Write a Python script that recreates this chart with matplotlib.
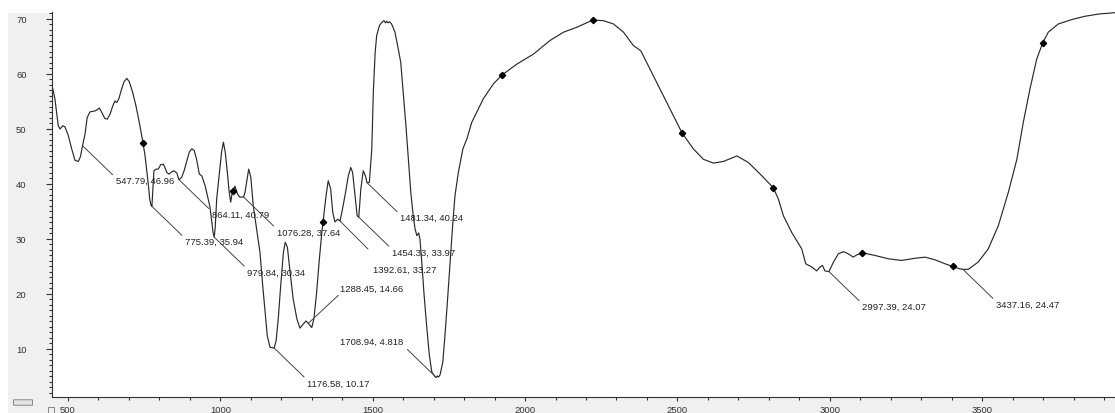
import numpy as np
import matplotlib
matplotlib.use("Agg")
import matplotlib.pyplot as plt
from matplotlib.patches import Rectangle, FancyBboxPatch
from matplotlib.ticker import MultipleLocator, FuncFormatter

# FTIR spectrum: wavenumber (cm-1) -> transmittance (%)
wavenumber = [
    450, 457, 468, 474, 483, 490, 501, 512, 523, 534, 541, 547.79, 556, 563, 572,
    580, 590, 603, 611, 621, 629, 638, 647, 654, 660, 667, 676, 684, 693, 701,
    712, 723, 734, 746, 753, 758, 764, 768, 772, 775.39, 779, 782, 789, 796, 804,
    813, 818, 824, 832, 840, 848, 857, 864.11, 873, 881, 890, 898, 906, 914, 922,
    931, 939, 950, 960, 966, 972, 976, 979.84, 983, 988, 997, 1004, 1010, 1016,
    1023, 1029, 1034, 1040, 1048, 1056, 1064, 1076.28, 1081, 1088, 1093, 1100,
    1108, 1119, 1130, 1139, 1147, 1154, 1163, 1176.58, 1183, 1190, 1198, 1207,
    1213, 1220, 1229, 1239, 1251, 1261, 1272, 1281, 1288.45, 1300, 1307, 1316,
    1325, 1333, 1338, 1347, 1354, 1362, 1369, 1376, 1385, 1392.61, 1400, 1409,
    1420, 1428, 1434, 1442, 1449, 1454.33, 1461, 1469, 1476, 1481.34, 1489, 1497,
    1502, 1508, 1513, 1522, 1530, 1537, 1542, 1546, 1550, 1555, 1562, 1573, 1584,
    1592, 1600, 1609, 1617, 1625, 1633, 1639, 1645, 1651, 1655, 1661, 1668, 1677,
    1686, 1694, 1704, 1708.94, 1712, 1716, 1721, 1730, 1737, 1745, 1754, 1763,
    1770, 1781, 1796, 1809, 1825, 1841, 1852, 1863, 1896, 1924, 1973, 2027, 2082,
    2126, 2170, 2222, 2257, 2290, 2323, 2355, 2370, 2380, 2410, 2443, 2476, 2515,
    2552, 2585, 2618, 2651, 2695, 2733, 2777, 2815, 2831, 2848, 2875, 2908, 2921,
    2941, 2957, 2968, 2976, 2984, 2997.39, 3012, 3028, 3045, 3061, 3077, 3088,
    3106, 3149, 3192, 3236, 3280, 3313, 3346, 3378, 3403, 3425, 3437.16, 3455,
    3487, 3520, 3553, 3586, 3614, 3635, 3657, 3679, 3699, 3717, 3750, 3794, 3838,
    3882, 3925, 3936,
]
transmittance = [
    57.3, 55.5, 50.6, 50.0, 50.6, 50.4, 48.8, 46.4, 44.3, 44.1, 45.0, 46.96, 49.1, 52.1, 53.1,
    53.2, 53.3, 53.8, 53.0, 51.9, 51.8, 52.7, 54.2, 55.1, 54.8, 55.5, 57.3, 58.6, 59.2, 58.6,
    56.7, 54.2, 51.2, 47.5, 45.1, 42.7, 39.7, 37.3, 36.2, 35.94, 39.5, 42.4, 42.7, 42.7, 43.5,
    43.6, 43.0, 42.1, 41.8, 42.2, 42.4, 42.0, 40.79, 41.2, 42.4, 44.2, 45.8, 46.4, 46.1, 44.5,
    41.8, 41.5, 39.7, 37.3, 35.8, 33.0, 31.2, 30.34, 32.0, 37.3, 42.1, 45.8, 47.6, 45.8,
    42.1, 38.5, 36.7, 38.8, 39.6, 38.2, 37.6, 37.64, 38.5, 40.9, 42.7, 41.2,
    36.0, 31.8, 27.6, 21.5, 16.7, 12.4, 10.3, 10.17, 11.5, 15.5, 21.5, 27.6,
    29.4, 28.5, 23.9, 19.1, 15.5, 13.8, 14.5, 15.1, 14.66, 13.9, 15.5, 20.3,
    26.4, 31.2, 33.6, 37.9, 40.6, 39.1, 34.8, 33.1, 33.6, 33.27, 35.2, 37.9,
    41.5, 43.0, 42.1, 37.9, 34.2, 33.97, 39.1, 42.4, 41.5, 40.24, 40.3, 46.4,
    56.7, 63.9, 67.0, 68.8, 69.4, 69.7, 69.3, 69.6, 69.3, 69.5, 69.1, 67.6, 64.5,
    62.1, 56.7, 50.6, 44.5, 38.5, 34.2, 31.8, 30.6, 31.1, 30.0, 25.8, 20.3, 14.2,
    8.8, 5.8, 5.0, 4.818, 5.1, 4.9, 5.3, 7.6, 12.4, 18.5, 25.8, 33.0,
    37.9, 42.1, 46.4, 48.2, 51.2, 53.0, 54.2, 55.5, 58.2, 59.8, 61.8, 63.6, 66.1,
    67.6, 68.5, 69.8, 69.7, 69.1, 67.6, 65.2, 64.6, 64.2, 60.9, 57.3, 53.6, 49.3,
    46.4, 44.5, 43.8, 44.1, 45.1, 43.9, 41.5, 39.3, 37.3, 34.2, 31.2, 28.2, 25.5,
    24.9, 24.2, 24.9, 25.2, 24.2, 24.07, 25.8, 27.3, 27.7, 27.3, 26.7, 27.1,
    27.5, 27.0, 26.4, 26.1, 26.5, 26.7, 26.2, 25.5, 25.0, 24.6, 24.47, 24.5,
    25.8, 28.2, 32.4, 38.5, 44.5, 51.2, 57.3, 62.7, 65.7, 67.6, 69.1, 69.9, 70.5,
    70.9, 71.1, 71.15,
]

# small black cursor markers on the curve
marker_x = [746, 1040, 1336, 1924, 2222, 2515, 2815, 3106, 3403, 3699]
marker_y = [47.5, 38.8, 33.1, 59.8, 69.8, 49.3, 39.3, 27.4, 25.0, 65.7]

# labelled peaks
peak_x = [547.79, 775.39, 864.11, 979.84, 1076.28, 1176.58, 1288.45,
          1392.61, 1454.33, 1481.34, 1708.94, 2997.39, 3437.16]
peak_y = [46.96, 35.94, 40.79, 30.34, 37.64, 10.17, 14.66,
          33.27, 33.97, 40.24, 4.818, 24.07, 24.47]
peak_labels = ["547.79, 46.96", "775.39, 35.94", "864.11, 40.79",
               "979.84, 30.34", "1076.28, 37.64", "1176.58, 10.17",
               "1288.45, 14.66", "1392.61, 33.27", "1454.33, 33.97",
               "1481.34, 40.24", "1708.94, 4.818", "2997.39, 24.07",
               "3437.16, 24.47"]

# layout of leader line end / text position (pixels relative to the point)
DEFAULT_POS = ((30, -29), (33, -35), "left")
special_pos = {
    "1288.45, 14.66": ((30, 28), (32, 35), "left"),
    "1392.61, 33.27": ((28, -28), (33, -48), "left"),
    "1708.94, 4.818": ((-29, 28), (-33, 36), "right"),
}

W, H = 1115, 414
BG = "#f0f0f0"
FONT = "Liberation Sans"

fig = plt.figure(figsize=(W / 100, H / 100), dpi=100, facecolor="white")

# grey frame of the program window (left of and below the plot)
fig.add_artist(Rectangle((8 / W, 0), 1 - 8 / W, (H - 14) / H, fc=BG, ec="none",
                         transform=fig.transFigure, zorder=0))

ax = fig.add_axes([52 / W, 16 / H, 1 - 52 / W, 385.15 / H])
ax.set_facecolor("white")
ax.set_zorder(1)

ax.plot(wavenumber, transmittance, color="#2a2a2a", lw=0.85)
ax.plot(marker_x, marker_y, ls="none", marker="D", ms=3.2, color="black")

for x, y, lab in zip(peak_x, peak_y, peak_labels):
    lead, txt, ha = special_pos.get(lab, DEFAULT_POS)
    ax.annotate("", xy=(x, y), xytext=lead, textcoords="offset pixels",
                arrowprops=dict(arrowstyle="-", color="#444444", lw=0.7,
                                shrinkA=0, shrinkB=0))
    ax.annotate(lab, xy=(x, y), xytext=txt, textcoords="offset pixels",
                ha=ha, va="center", fontsize=6.8, family=FONT, color="#222222")

ax.set_xlim(447.5, 3936)
ax.set_ylim(1.27, 71.3)

ax.xaxis.set_major_locator(MultipleLocator(500))
ax.xaxis.set_minor_locator(MultipleLocator(100))
ax.yaxis.set_major_locator(MultipleLocator(10))
ax.yaxis.set_minor_locator(MultipleLocator(1))
ax.xaxis.set_major_formatter(FuncFormatter(lambda v, p: f"{v:.0f}"))
ax.yaxis.set_major_formatter(FuncFormatter(lambda v, p: f"{v:.0f}"))

ax.tick_params(axis="x", which="major", length=3, width=0.8, pad=3,
               labelsize=6.8, colors="#333333")
ax.tick_params(axis="x", which="minor", length=2, width=0.8, colors="#333333")
ax.tick_params(axis="y", which="major", length=4.3, width=0.8, pad=14,
               labelsize=6.8, colors="#333333")
ax.tick_params(axis="y", which="minor", length=2.2, width=0.8, colors="#333333")
for lab in ax.get_xticklabels() + ax.get_yticklabels():
    lab.set_family(FONT)

for side in ("top", "right"):
    ax.spines[side].set_visible(False)
for side in ("left", "bottom"):
    ax.spines[side].set_color("#333333")
    ax.spines[side].set_linewidth(0.8)

# little toolbar icons of the original program
fig.add_artist(FancyBboxPatch((14 / W, (H - 406) / H), 18 / W, 5 / H,
                              boxstyle="round,pad=0.0005", fc="#e4e4e4",
                              ec="#777777", lw=0.6, transform=fig.transFigure,
                              zorder=2))
fig.add_artist(Rectangle((48 / W, (H - 414) / H), 6 / W, 6 / H, fill=False,
                         ec="#777777", lw=0.6, transform=fig.transFigure,
                         zorder=2))

fig.savefig("out.png", dpi=100, facecolor="white")
